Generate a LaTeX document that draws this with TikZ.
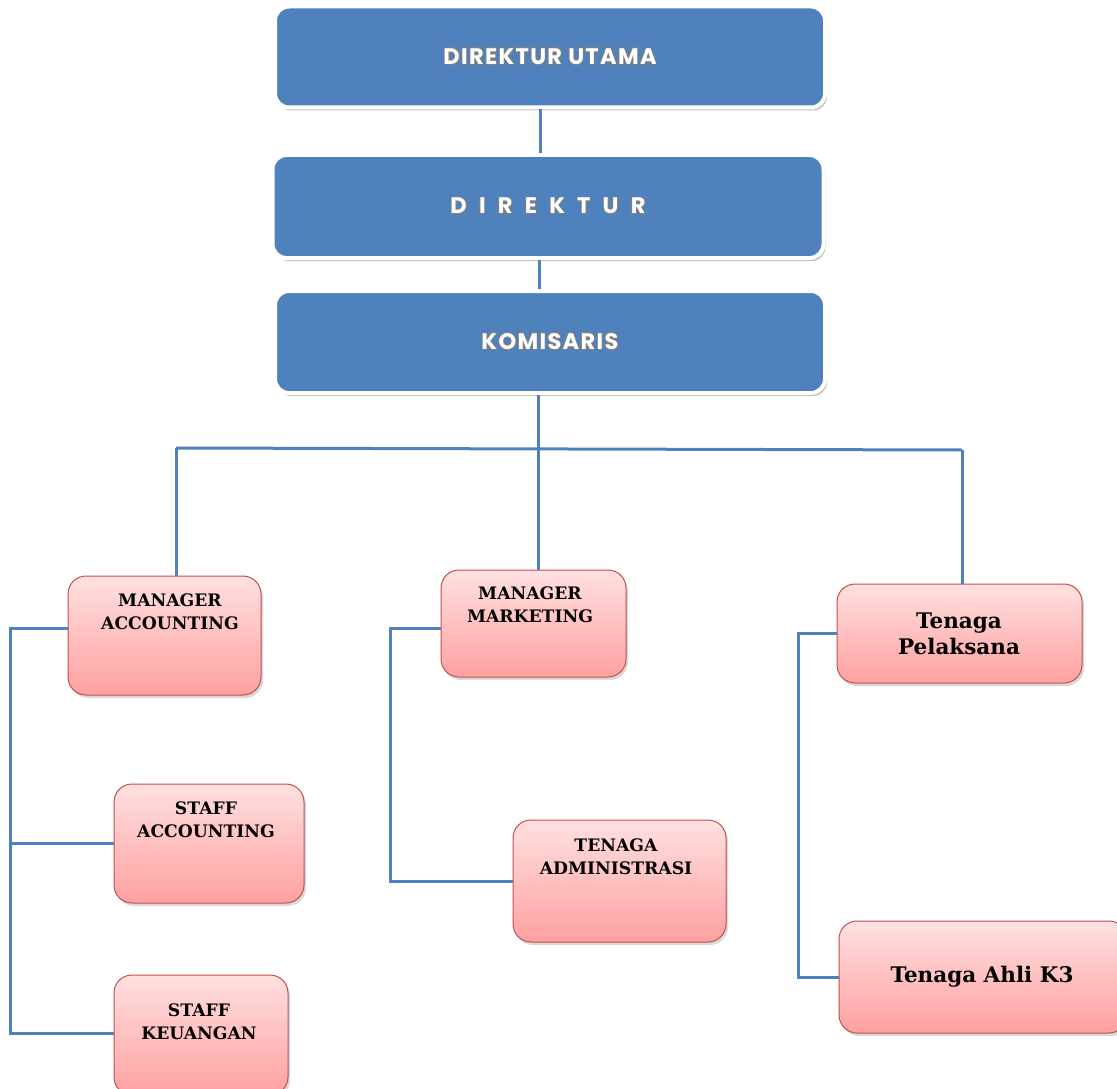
\documentclass[tikz,border=0pt]{standalone}
\usepackage{fontspec}
\usepackage{contour}
\usetikzlibrary{shadows}
\newfontfamily\serifb{DejaVu Serif}
\newfontfamily\topf{Poppins}[LetterSpace=6]
\definecolor{blu}{HTML}{4F81BD}
\definecolor{pkb}{RGB}{192,80,77}
\definecolor{pkt}{RGB}{255,224,224}
\definecolor{pkbot}{RGB}{255,160,160}
\contourlength{0.7pt}
\newcommand{\toptxt}[1]{\contour{gray}{\textcolor{white}{#1}}}
\tikzset{
  topbox/.style={rectangle, rounded corners=14pt, fill=blu, draw=white, line width=4pt,
    minimum width=550pt, minimum height=101pt, inner sep=0pt,
    drop shadow={opacity=0.5, shadow xshift=2pt, shadow yshift=-3pt},
    font=\topf\bfseries\fontsize{22.5}{26}\selectfont},
  pinkbox/.style={rectangle, rounded corners=18pt, draw=pkb, line width=1pt,
    top color=pkt, bottom color=pkbot, inner sep=0pt,
    drop shadow={opacity=0.3, shadow xshift=2pt, shadow yshift=-3pt}},
  pinktext/.style={font=\serifb\bfseries\fontsize{17.2}{23}\selectfont, align=center, inner sep=0pt},
  bigtext/.style={font=\serifb\bfseries\fontsize{21.5}{26}\selectfont, align=center, inner sep=0pt},
  conn/.style={draw=blu, line width=3pt}
}
\begin{document}
\begin{tikzpicture}[x=1pt,y=-1pt]
\useasboundingbox (0,0) rectangle (1117,1089);
% top boxes
\node[topbox] (du) at (550,57) {\toptxt{DIREKTUR UTAMA}};
\node[topbox, minimum width=551pt, minimum height=103pt] (dir) at (548,206.5) {\toptxt{D\ \ I\ \ R\ \ E\ \ K\ \ T\ \ U\ \ R}};
\node[topbox, minimum height=102pt] (kom) at (550,342) {\toptxt{KOMISARIS}};
% pink boxes
\node[pinkbox, minimum width=193pt, minimum height=119pt] (ma) at (164.5,635.5) {};
\node[pinkbox, minimum width=185pt, minimum height=107pt] (mm) at (533.5,623.5) {};
\node[pinkbox, minimum width=245pt, minimum height=99pt] (tp) at (959.5,633.5) {};
\node[pinkbox, minimum width=190pt, minimum height=119pt] (sa) at (209,843.5) {};
\node[pinkbox, minimum width=213pt, minimum height=122pt] (ta) at (619.5,881) {};
\node[pinkbox, minimum width=174pt, minimum height=120pt] (sk) at (201,1035) {};
\node[pinkbox, minimum width=288pt, minimum height=112pt] (k3) at (983,977) {};
% texts
\node[pinktext] (mat) at (170,612) {MANAGER\\ACCOUNTING};
\node[pinktext] (mmt) at (530,605) {MANAGER\\MARKETING};
\node[bigtext] (tpt) at (959,634) {Tenaga\\Pelaksana};
\node[pinktext] (sat) at (206,820) {STAFF\\ACCOUNTING};
\node[pinktext] (tat) at (616,857) {TENAGA\\ADMINISTRASI};
\node[pinktext] (skt) at (199,1022) {STAFF\\KEUANGAN};
\node[bigtext] (k3t) at (982,977) {Tenaga Ahli K3};
% connectors
\coordinate (hub) at (538,449);
\coordinate (hL) at (176,448);
\coordinate (hR) at (962,450);
\coordinate (spL) at (10,700);
\coordinate (spM) at (390,700);
\coordinate (spR) at (798,700);
\coordinate (maW) at ([yshift=7.5pt]ma.west);
\coordinate (mmW) at ([yshift=-4.5pt]mm.west);
\coordinate (skW) at ([yshift=2pt]sk.west);
\coordinate (duS) at ([xshift=-10pt]du.south);
\coordinate (dirS) at ([xshift=-9pt]dir.south);
\draw[conn] (duS) -- (duS |- dir.north);
\draw[conn] (dirS) -- (dirS |- kom.north);
\draw[conn] (hub |- kom.south) -- (hub) -- (hub |- mm.north);
\draw[conn] (hL) -- (hR);
\draw[conn] (hL) -- (hL |- ma.north);
\draw[conn] (hR) -- (hR |- tp.north);
\draw[conn] (maW) -- (spL |- maW) -- (spL |- skW) -- (skW);
\draw[conn] (spL |- sa.west) -- (sa.west);
\draw[conn] (mmW) -- (spM |- mmW) -- (spM |- ta.west) -- (ta.west);
\draw[conn] (tp.west) -- (spR |- tp.west) -- (spR |- k3.west) -- (k3.west);
\end{tikzpicture}
\end{document}
